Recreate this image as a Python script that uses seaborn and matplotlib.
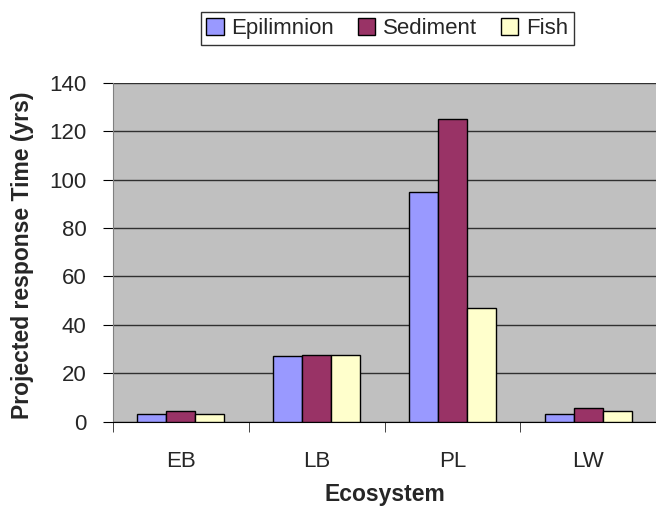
import pandas as pd
import matplotlib.pyplot as plt
import seaborn as sns

ecosystems = ["EB", "LB", "PL", "LW"]
epilimnion = [3.3, 27, 95, 3.3]
sediment = [4.4, 27.5, 125, 5.8]
fish = [3.3, 27.5, 47, 4.4]
series = ["Epilimnion", "Sediment", "Fish"]
colors = ["#9999FF", "#993366", "#FFFFCC"]

df = pd.DataFrame({"Ecosystem": ecosystems, "Epilimnion": epilimnion,
                   "Sediment": sediment, "Fish": fish})
df = df.melt(id_vars="Ecosystem", var_name="Series", value_name="Years")

sns.set_style("white")
plt.rcParams["font.family"] = ["Liberation Sans", "DejaVu Sans"]

fig = plt.figure(figsize=(6.56, 5.09), dpi=100)
ax = fig.add_axes([0.1723, 0.1715, 0.8277, 0.666])
ax.set_facecolor("#C0C0C0")

sns.barplot(data=df, x="Ecosystem", y="Years", hue="Series", hue_order=series,
            palette=colors, width=0.64, edgecolor="black", linewidth=1,
            saturation=1, ax=ax, zorder=3)

ax.set_ylim(0, 140)
ax.set_yticks(range(0, 141, 20))
ax.set_xlim(-0.5, 3.5)
ax.yaxis.grid(True, color="#303030", linewidth=1, zorder=0)
ax.set_axisbelow(True)
for side in ["top", "right"]:
    ax.spines[side].set_visible(False)
ax.spines["left"].set_color("#808080")
ax.spines["bottom"].set_color("black")
ax.tick_params(axis="both", labelsize=16, length=7, direction="out",
               left=True, bottom=False, color="black")
ax.tick_params(axis="y", pad=12)
ax.set_xticks([-0.5, 0.5, 1.5, 2.5, 3.5], minor=True)
ax.tick_params(axis="x", which="minor", length=7, bottom=True)
ax.tick_params(axis="x", which="major", pad=14)
ax.set_xlabel("Ecosystem", fontsize=16.5, fontweight="bold")
ax.xaxis.set_label_coords(0.5, -0.18)
ax.set_ylabel("Projected response Time (yrs)", fontsize=16.5, fontweight="bold")
ax.yaxis.set_label_coords(-0.146, 0.49)

leg = ax.legend(loc="upper center", bbox_to_anchor=(0.505, 1.24), ncol=3,
                fontsize=16, frameon=True, fancybox=False, edgecolor="black",
                handlelength=0.8, handleheight=0.8, handletextpad=0.35,
                columnspacing=1.05, borderpad=0.25)
leg.get_frame().set_linewidth(1)

fig.savefig("out.png", dpi=100)
